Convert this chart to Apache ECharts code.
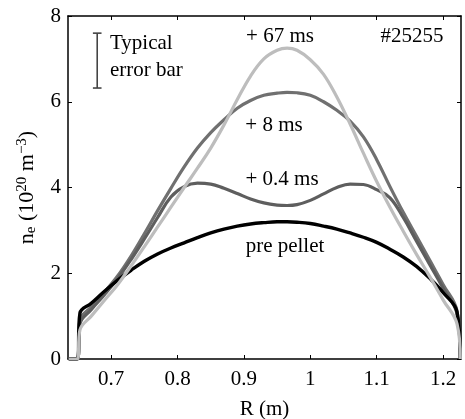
<!DOCTYPE html>
<html>
<head>
<meta charset="utf-8">
<script src="https://cdn.jsdelivr.net/npm/echarts@6/dist/echarts.min.js"></script>
<style>
html,body{margin:0;padding:0;background:#fff;}
#c{width:465px;height:419px;}
</style>
</head>
<body>
<div id="c"></div>
<script>
// Radius grid (m)
const R = [0.636, 0.649, 0.653, 0.67, 0.69, 0.71, 0.73, 0.75, 0.77, 0.79, 0.81, 0.83, 0.85, 0.87, 0.89, 0.91, 0.93, 0.95, 0.965, 0.98, 1.0, 1.02, 1.04, 1.06, 1.08, 1.10, 1.12, 1.14, 1.16, 1.18, 1.20, 1.221, 1.226];
// Density profiles n_e (10^20 m^-3)
const prePellet = [0, 0, 1.07, 1.30, 1.58, 1.84, 2.07, 2.28, 2.45, 2.59, 2.71, 2.83, 2.94, 3.03, 3.10, 3.15, 3.18, 3.20, 3.20, 3.19, 3.16, 3.10, 3.03, 2.94, 2.84, 2.72, 2.56, 2.38, 2.16, 1.88, 1.55, 1.10, 0];
const plus04 = [0, 0, 0.82, 1.15, 1.50, 1.88, 2.32, 2.80, 3.30, 3.78, 4.02, 4.10, 4.08, 3.98, 3.86, 3.73, 3.64, 3.59, 3.58, 3.60, 3.70, 3.85, 4.00, 4.08, 4.07, 3.95, 3.76, 3.30, 2.75, 2.20, 1.65, 1.05, 0];
const plus8 = [0, 0, 0.90, 1.22, 1.56, 1.94, 2.40, 2.92, 3.46, 3.98, 4.48, 4.92, 5.28, 5.58, 5.85, 6.03, 6.15, 6.20, 6.22, 6.21, 6.15, 6.00, 5.80, 5.55, 5.18, 4.65, 4.02, 3.42, 2.86, 2.30, 1.74, 1.12, 0];
const plus67 = [0, 0, 0.68, 1.00, 1.37, 1.74, 2.17, 2.62, 3.08, 3.54, 4.00, 4.45, 4.92, 5.46, 6.05, 6.60, 7.00, 7.20, 7.25, 7.20, 6.98, 6.64, 6.11, 5.48, 4.80, 4.14, 3.54, 2.98, 2.44, 1.92, 1.38, 0.82, 0];
// Axis ticks
const xTicks = [0.7, 0.8, 0.9, 1.0, 1.1, 1.2];
// Typical error bar [R, low, high]
const errBar = [[0.679, 6.32, 7.6]];
const errCapHalf = 0.0065;

const pairs = v => R.map((r, i) => [r, v[i]]);
const FONT = '"Liberation Serif", "Times New Roman", serif';

const chart = echarts.init(document.getElementById('c'));
const axisCommon = {
  type: 'value',
  axisLine: {show: true, onZero: false, lineStyle: {color: '#000', width: 1.5}},
  axisTick: {show: true, inside: true, length: 4, lineStyle: {color: '#000', width: 1}},
  splitLine: {show: false}
};
const txt = (t, x, y, align) => ({type: 'text', x: x, y: y, silent: true,
  style: {text: t, fontFamily: FONT, fontSize: 21, fill: '#000', align: align || 'center', verticalAlign: 'middle'}});
chart.setOption({
  animation: false,
  backgroundColor: '#fff',
  grid: {left: 68, right: 4, top: 16, bottom: 60, show: false, containLabel: false, outerBoundsMode: 'none'},
  xAxis: [
    Object.assign({}, axisCommon, {
      position: 'bottom', min: 0.635, max: 1.227,
      axisTick: Object.assign({}, axisCommon.axisTick, {customValues: xTicks}),
      axisLabel: {customValues: xTicks, color: '#000', fontFamily: FONT, fontSize: 21, margin: 10,
        formatter: v => String(Math.round(v * 10) / 10)},
      name: 'R (m)', nameLocation: 'middle', nameGap: 40,
      nameTextStyle: {color: '#000', fontFamily: FONT, fontSize: 21}
    }),
    Object.assign({}, axisCommon, {
      position: 'top', min: 0.635, max: 1.227,
      axisTick: Object.assign({}, axisCommon.axisTick, {customValues: xTicks}),
      axisLabel: {show: false}
    })
  ],
  yAxis: [
    Object.assign({}, axisCommon, {
      position: 'left', min: 0, max: 8, interval: 2,
      axisLabel: {color: '#000', fontFamily: FONT, fontSize: 21, margin: 7},
      name: '{n|n}{sub|e}{n| (10}{sup|20}{n| m}{sup|−3}{n|)}',
      nameLocation: 'middle', nameGap: 28, nameRotate: 90,
      nameTextStyle: {
        color: '#000', fontFamily: FONT, fontSize: 22,
        rich: {
          n: {fontFamily: FONT, fontSize: 22, color: '#000', lineHeight: 26},
          sub: {fontFamily: FONT, fontSize: 15, color: '#000', padding: [8, 0, 0, 0], lineHeight: 26},
          sup: {fontFamily: FONT, fontSize: 15, color: '#000', padding: [0, 0, 9, 0], lineHeight: 26}
        }
      }
    }),
    Object.assign({}, axisCommon, {
      position: 'right', min: 0, max: 8, interval: 2,
      axisLabel: {show: false}
    })
  ],
  series: [
    {type: 'line', name: '+ 8 ms', data: pairs(plus8), showSymbol: false, smooth: 0.4,
      lineStyle: {color: '#707070', width: 3.2}},
    {type: 'line', name: '+ 0.4 ms', data: pairs(plus04), showSymbol: false, smooth: 0.4,
      lineStyle: {color: '#5e5e5e', width: 3.2}},
    {type: 'line', name: 'pre pellet', data: pairs(prePellet), showSymbol: false, smooth: 0.4,
      lineStyle: {color: '#000', width: 3.4}},
    {type: 'line', name: '+ 67 ms', data: pairs(plus67), showSymbol: false, smooth: 0.4,
      lineStyle: {color: '#bdbdbd', width: 3.2}},
    {type: 'custom', name: 'error bar', data: errBar,
      renderItem: (params, api) => {
        const r = api.value(0), lo = api.value(1), hi = api.value(2);
        const pLo = api.coord([r, lo]), pHi = api.coord([r, hi]);
        const cL = api.coord([r - errCapHalf, lo])[0], cR = api.coord([r + errCapHalf, lo])[0];
        const st = {stroke: '#444', lineWidth: 1.6};
        return {type: 'group', children: [
          {type: 'line', shape: {x1: pLo[0], y1: pLo[1], x2: pHi[0], y2: pHi[1]}, style: st},
          {type: 'line', shape: {x1: cL, y1: pLo[1], x2: cR, y2: pLo[1]}, style: st},
          {type: 'line', shape: {x1: cL, y1: pHi[1], x2: cR, y2: pHi[1]}, style: st}
        ]};
      }}
  ],
  graphic: [
    txt('Typical', 110, 43, 'left'),
    txt('error bar', 110, 70, 'left'),
    txt('+ 67 ms', 280, 36),
    txt('#25255', 412, 36),
    txt('+ 8 ms', 274, 125),
    txt('+ 0.4 ms', 282, 179),
    txt('pre pellet', 285, 246)
  ]
});
</script>
</body>
</html>
